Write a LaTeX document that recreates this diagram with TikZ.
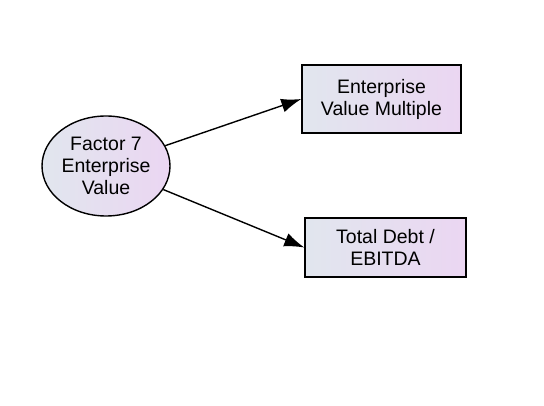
\documentclass[tikz,border=0pt]{standalone}
\usepackage{fontspec}
\setmainfont{Liberation Sans}
\usetikzlibrary{arrows.meta,positioning,shapes.geometric}
\definecolor{PaleSteel}{HTML}{E1E6EE}
\definecolor{PaleLilac}{HTML}{EBD6F2}

\begin{document}
\begin{tikzpicture}[x=1pt,y=1pt,
    factor/.style={ellipse,draw=black,line width=1.4pt,minimum width=128pt,minimum height=100pt,inner sep=0pt,align=center,font=\fontsize{19.5}{22}\selectfont,left color=PaleSteel,right color=PaleLilac},
    box/.style={rectangle,draw=black,line width=1.4pt,align=center,font=\fontsize{19.5}{22}\selectfont,left color=PaleSteel,right color=PaleLilac},
    arr/.style={-{Latex[length=20pt,width=14pt]},line width=1.4pt,black}]
    \useasboundingbox (0,0) rectangle (544,-406);
    \node[factor] (fev) at (106,-166) {Factor 7\\Enterprise\\Value};
    \node[box,minimum width=159pt,minimum height=68pt] (evm) at (381.5,-99) {Enterprise\\Value Multiple};
    \node[box,minimum width=161pt,minimum height=59pt] (debt) at (385.5,-247.5) {Total Debt /\\EBITDA};
    \draw[arr] (fev)--(evm.west); \draw[arr] (fev)--(debt.west);
  \end{tikzpicture}
\end{document}
